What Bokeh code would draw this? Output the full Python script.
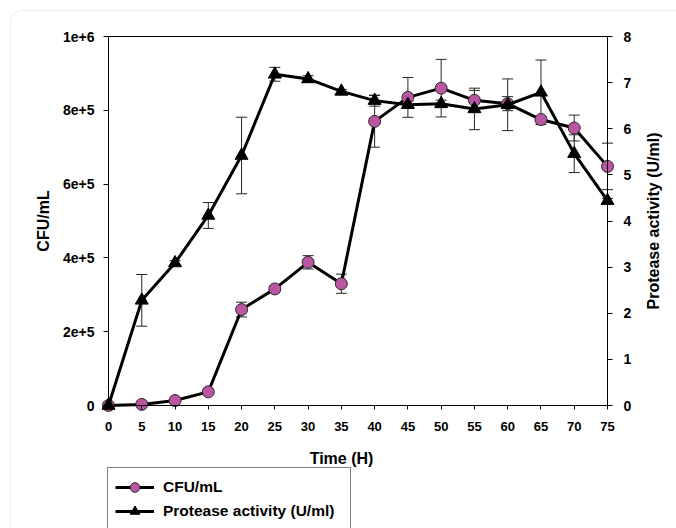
import math
from bokeh.plotting import figure
from bokeh.models import (Range1d, LinearAxis, Whisker, TeeHead, ColumnDataSource,
                          FixedTicker, Legend, LegendItem, Label, BoxAnnotation)
from bokeh.embed import file_html
from bokeh.resources import INLINE

# ---------------- data ----------------
time_h = [0, 5, 10, 15, 20, 25, 30, 35, 40, 45, 50, 55, 60, 65, 70, 75]
cfu = [0, 3000, 13500, 37000, 260000, 316000, 388000, 330000, 770000,
       835000, 860000, 827000, 818000, 775000, 752000, 648000]
cfu_err = [0, 0, 0, 0, 20000, 8000, 18000, 26000, 70000,
           54000, 78000, 27000, 19000, 8000, 35000, 63000]
protease = [0, 2.28, 3.09, 4.12, 5.42, 7.18, 7.08, 6.81, 6.61,
            6.52, 6.54, 6.43, 6.52, 6.79, 5.46, 4.44]
protease_err = [0, 0.56, 0.05, 0.28, 0.83, 0.15, 0.07, 0.04, 0.12,
                0.08, 0.08, 0.45, 0.56, 0.70, 0.41, 0.05]
cfu_ticks = [0, 200000, 400000, 600000, 800000, 1000000]
cfu_tick_labels = ["0", "2e+5", "4e+5", "6e+5", "8e+5", "1e+6"]
prot_ticks = [0, 1, 2, 3, 4, 5, 6, 7, 8]
X_MIN, X_MAX = 0, 75
CFU_MIN, CFU_MAX = 0, 1e6
PROT_MIN, PROT_MAX = 0, 8

# ---------------- layout (pixels inside the canvas) ----------------
W, H = 676, 528
AX_L, AX_R = 108, 607        # x pixel of x=0 and x=75
AX_T, AX_B = 36, 405         # y pixel of the top and bottom of the value axes
FONT = "Liberation Sans"

ppx = (AX_R - AX_L) / (X_MAX - X_MIN)
ppl = (AX_B - AX_T) / (CFU_MAX - CFU_MIN)
ppr = (AX_B - AX_T) / (PROT_MAX - PROT_MIN)

x_rng = Range1d(X_MIN - AX_L / ppx, X_MAX + (W - AX_R) / ppx)
yl_rng = Range1d(CFU_MIN - (H - AX_B) / ppl, CFU_MAX + AX_T / ppl)
yr_rng = Range1d(PROT_MIN - (H - AX_B) / ppr, PROT_MAX + AX_T / ppr)

p = figure(width=W, height=H, output_backend="svg", toolbar_location=None,
           x_range=x_rng, y_range=yl_rng,
           x_axis_location=None, y_axis_location=None, title_location=None,
           min_border=0)
p.extra_y_ranges = {"right": yr_rng}
p.outline_line_color = None
p.xgrid.visible = False
p.ygrid.visible = False
p.background_fill_color = "white"
p.border_fill_color = "white"


def style_axis(ax, size, tick_len, standoff):
    ax.axis_line_color = "black"
    ax.axis_line_width = 1
    ax.major_tick_line_color = "black"
    ax.major_tick_line_width = 1
    ax.major_tick_in = 0
    ax.major_tick_out = tick_len
    ax.minor_tick_in = 0
    ax.minor_tick_out = 0
    ax.major_label_standoff = standoff
    ax.major_label_text_font = FONT
    ax.major_label_text_font_style = "bold"
    ax.major_label_text_font_size = size
    ax.major_label_text_color = "black"


xaxis = LinearAxis(fixed_location=CFU_MIN, bounds=(X_MIN, X_MAX),
                   ticker=FixedTicker(ticks=time_h))
style_axis(xaxis, "13px", 4, 12)
p.add_layout(xaxis, "below")

laxis = LinearAxis(fixed_location=X_MIN, bounds=(CFU_MIN, CFU_MAX),
                   ticker=FixedTicker(ticks=cfu_ticks),
                   major_label_overrides={t: s for t, s in zip(cfu_ticks, cfu_tick_labels)})
style_axis(laxis, "14px", 5, 9)
p.add_layout(laxis, "left")

raxis = LinearAxis(y_range_name="right", fixed_location=X_MAX, bounds=(PROT_MIN, PROT_MAX),
                   ticker=FixedTicker(ticks=prot_ticks))
style_axis(raxis, "14px", 5, 11)
p.add_layout(raxis, "right")

taxis = LinearAxis(fixed_location=CFU_MAX, bounds=(X_MIN, X_MAX), ticker=FixedTicker(ticks=[]))
style_axis(taxis, "14px", 0, 0)
p.add_layout(taxis, "above")

# ---------------- axis titles ----------------
title_style = dict(text_font=FONT, text_font_style="bold", text_font_size="16px",
                   text_color="black", text_align="center", text_baseline="middle")
p.add_layout(Label(x=X_MIN, y=(CFU_MIN + CFU_MAX) / 2, x_offset=-65, angle=math.pi / 2,
                   text="CFU/mL", **title_style))
p.add_layout(Label(x=X_MAX, y=(PROT_MIN + PROT_MAX) / 2, y_range_name="right", x_offset=46,
                   angle=math.pi / 2, text="Protease activity (U/ml)", **title_style))
p.add_layout(Label(x=X_MIN, y=CFU_MIN, x_offset=233, y_offset=-53, text="Time (H)",
                   **title_style))

# ---------------- data sources ----------------
src = ColumnDataSource(dict(t=time_h, cfu=cfu, prot=protease))

ce = [(t, v, e) for t, v, e in zip(time_h, cfu, cfu_err) if e > 0]
cfu_err_src = ColumnDataSource(dict(t=[a[0] for a in ce],
                                    lo=[a[1] - a[2] for a in ce],
                                    hi=[a[1] + a[2] for a in ce]))
pe = [(t, v, e) for t, v, e in zip(time_h, protease, protease_err) if e > 0]
prot_err_src = ColumnDataSource(dict(t=[a[0] for a in pe],
                                     lo=[a[1] - a[2] for a in pe],
                                     hi=[a[1] + a[2] for a in pe]))

ERR_COLOR = "#262626"
for s, rname in ((cfu_err_src, "default"), (prot_err_src, "right")):
    w = Whisker(base="t", upper="hi", lower="lo", source=s, y_range_name=rname,
                level="underlay", line_color=ERR_COLOR, line_width=1,
                upper_head=TeeHead(size=11, line_color=ERR_COLOR, line_width=1),
                lower_head=TeeHead(size=11, line_color=ERR_COLOR, line_width=1))
    p.add_layout(w)

# ---------------- series ----------------
l1 = p.line("t", "cfu", source=src, line_color="black", line_width=3)
s1 = p.scatter("t", "cfu", source=src, marker="circle", size=12, fill_color="#BA55A3",
               line_color="#2a2a2a", line_width=1)
l2 = p.line("t", "prot", source=src, y_range_name="right", line_color="black", line_width=3)
s2 = p.scatter("t", "prot", source=src, y_range_name="right", marker="triangle", size=13,
               fill_color="black", line_color="black", line_width=1)

# ---------------- legend (cut by the bottom edge, as in the original) ----------------
lg = Legend(items=[LegendItem(label="CFU/mL", renderers=[l1, s1]),
                   LegendItem(label="Protease activity (U/ml)", renderers=[l2, s2])],
            location=(107, -3), orientation="vertical",
            border_line_color="black", border_line_width=1,
            background_fill_color="white", background_fill_alpha=1,
            label_text_font=FONT, label_text_font_style="bold",
            label_text_font_size="15.5px", label_text_color="black",
            glyph_width=39, glyph_height=24, label_height=20, label_width=180,
            label_standoff=9, padding=7, spacing=0, margin=0)
p.add_layout(lg, "center")

# ---------------- outer rounded frame of the figure ----------------
fb = dict(left=x_rng.start + 10 / ppx, right=x_rng.end + 40 / ppx,
          top=yl_rng.end - 10 / ppl, bottom=yl_rng.start - 40 / ppl,
          fill_color=None, line_color="#bdbdbd", line_width=1)
try:
    p.add_layout(BoxAnnotation(border_radius=11, **fb))
except Exception:
    p.add_layout(BoxAnnotation(**fb))

open("out.html", "w").write(file_html(p, INLINE))
